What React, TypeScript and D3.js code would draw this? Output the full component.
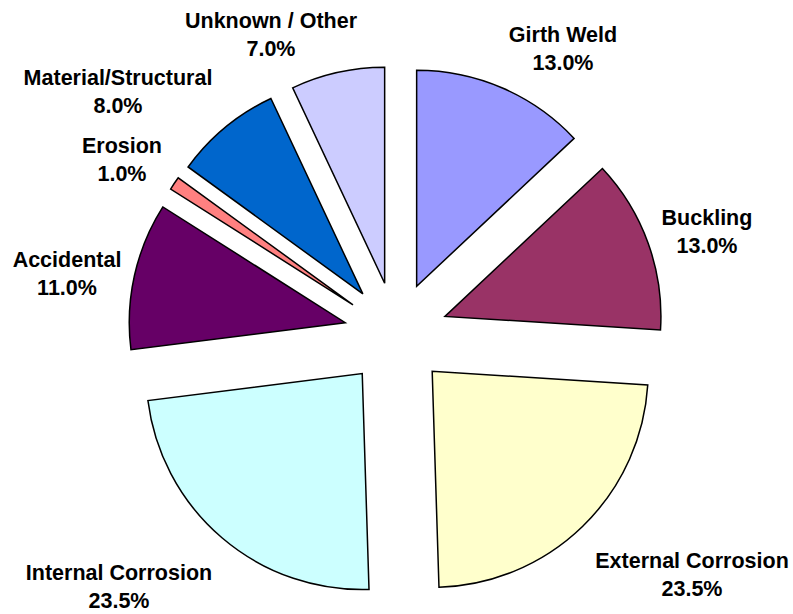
import React from 'react';
import * as d3 from 'd3';

// slice order goes clockwise from 12 o'clock
const categories = [
  'Girth Weld',
  'Buckling',
  'External Corrosion',
  'Internal Corrosion',
  'Accidental',
  'Erosion',
  'Material/Structural',
  'Unknown / Other',
];
const shares = [13.0, 13.0, 23.5, 23.5, 11.0, 1.0, 8.0, 7.0];
const colors = ['#9999FF', '#993366', '#FFFFCC', '#CCFFFF', '#660066', '#FF8080', '#0066CC', '#CCCCFF'];

// where each label sits (centre x, first baseline y)
const labelSpots: [number, number][] = [
  [563, 42],
  [707, 225],
  [692, 568],
  [119, 580],
  [67, 267],
  [122, 153],
  [118, 85],
  [271, 28],
];

const width = 793;
const height = 614;
const cx = 396;
const cy = 334;
const radius = 216;
const explode = 52;

export default function App() {
  const pie = d3.pie<number>().sort(null).value((d) => d);
  const arcs = pie(shares);
  const arc = d3.arc<d3.PieArcDatum<number>>().innerRadius(0).outerRadius(radius);

  return (
    <div style={{ position: 'absolute', left: 0, top: 0 }}>
      <svg width={width} height={height} style={{ display: 'block', background: '#fff' }}>
        <g transform={`translate(${cx},${cy})`}>
          {arcs.map((a, i) => {
            const mid = (a.startAngle + a.endAngle) / 2;
            const dx = Math.sin(mid) * explode;
            const dy = -Math.cos(mid) * explode;
            return (
              <path
                key={categories[i]}
                d={arc(a) || ''}
                transform={`translate(${dx},${dy})`}
                fill={colors[i]}
                stroke="#000"
                strokeWidth={1.5}
                strokeLinejoin="miter"
              />
            );
          })}
        </g>
        <g fontFamily="Arial, 'Liberation Sans', sans-serif" fontWeight="bold" fontSize={21.5} fill="#000" textAnchor="middle">
          {categories.map((c, i) => (
            <text key={c} x={labelSpots[i][0]} y={labelSpots[i][1]}>
              <tspan x={labelSpots[i][0]}>{c}</tspan>
              <tspan x={labelSpots[i][0]} dy={28}>{shares[i].toFixed(1) + '%'}</tspan>
            </text>
          ))}
        </g>
      </svg>
    </div>
  );
}
